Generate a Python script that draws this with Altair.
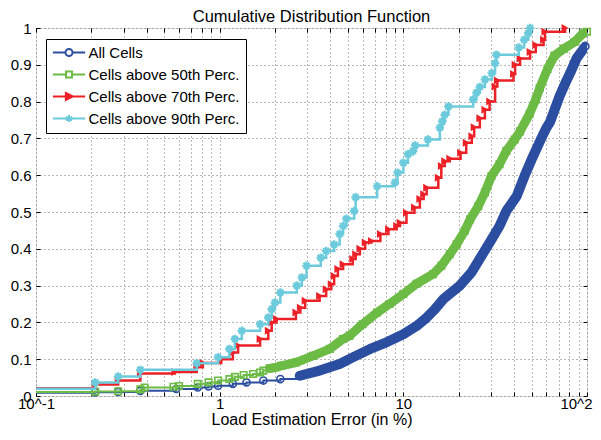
import altair as alt
import pandas as pd

FONT = "Liberation Sans"

series_names = ["All Cells", "Cells above 50th Perc.", "Cells above 70th Perc.", "Cells above 90th Perc."]
series_colors = ["#2c4ea0", "#6cbb45", "#ec2027", "#6bcbdc"]

# All Cells (blue)
blue_x = [0.1, 0.21, 0.28, 0.37, 0.58, 0.76, 0.87, 0.98, 1.18, 1.4,
          1.73, 2.14, 2.73, 3.5, 4.5, 5.3, 6.6, 8.1, 10.0, 11.8,
          13.2, 14.8, 16.5, 20.3, 23.5, 26.0, 29.5, 33.4, 36.4, 41.5,
          45.7, 50.9, 56.0, 60.0, 63.0, 68.0, 71.0, 77.0, 81.0, 87.8, 98.0]
blue_y = [0.009, 0.01, 0.011, 0.014, 0.019, 0.023, 0.026, 0.028, 0.033, 0.037,
          0.042, 0.046, 0.055, 0.069, 0.087, 0.105, 0.128, 0.146, 0.168, 0.19,
          0.21, 0.235, 0.263, 0.3, 0.336, 0.372, 0.417, 0.462, 0.503, 0.544,
          0.598, 0.652, 0.697, 0.728, 0.745, 0.79, 0.815, 0.855, 0.878, 0.918, 0.95]

# Cells above 50th percentile (green)
green_x = [0.1, 0.21, 0.28, 0.37, 0.39, 0.56, 0.6, 0.76, 0.87, 0.98,
           1.13, 1.21, 1.35, 1.52, 1.66, 1.73, 1.87, 2.04, 2.16, 2.6,
           3.22, 3.98, 4.7, 5.1, 6.0, 7.2, 8.4, 10.0, 11.8, 14.5,
           16.1, 17.9, 19.5, 21.6, 23.1, 25.6, 27.8, 30.2, 33.4, 36.4,
           40.4, 43.2, 48.7, 52.6, 55.3, 61.0, 66.5, 75.0, 85.5, 95.0, 100.0]
green_y = [0.011, 0.012, 0.013, 0.018, 0.023, 0.025, 0.027, 0.033, 0.037, 0.042,
           0.046, 0.052, 0.057, 0.06, 0.064, 0.069, 0.075, 0.078, 0.082, 0.091,
           0.109, 0.128, 0.155, 0.164, 0.195, 0.227, 0.25, 0.277, 0.305, 0.331,
           0.354, 0.385, 0.412, 0.449, 0.48, 0.516, 0.553, 0.598, 0.63, 0.666,
           0.697, 0.719, 0.767, 0.806, 0.837, 0.889, 0.925, 0.944, 0.962, 0.985, 0.99]

# Cells above 70th percentile (red)
red_x = [0.1, 0.21, 0.28, 0.37, 0.57, 0.75, 0.81, 1.02, 1.18, 1.26,
         1.66, 1.84, 1.92, 2.04, 2.6, 2.75, 2.92, 3.5, 3.8, 4.05,
         4.2, 4.4, 4.7, 5.3, 5.5, 5.8, 6.2, 6.7, 7.5, 8.3,
         9.2, 9.6, 10.4, 11.5, 12.3, 12.9, 13.4, 15.5, 16.1, 16.8,
         17.9, 20.5, 22.0, 23.6, 24.3, 26.1, 27.8, 29.5, 31.6, 32.5,
         39.8, 40.6, 43.2, 49.0, 52.6, 58.0, 59.0, 76.0]
red_y = [0.021, 0.031, 0.042, 0.061, 0.065, 0.078, 0.09, 0.1, 0.118, 0.137,
         0.155, 0.177, 0.2, 0.209, 0.227, 0.24, 0.259, 0.272, 0.29, 0.304,
         0.326, 0.345, 0.358, 0.372, 0.385, 0.4, 0.417, 0.421, 0.44, 0.453,
         0.462, 0.471, 0.498, 0.512, 0.535, 0.548, 0.566, 0.593, 0.625, 0.638,
         0.645, 0.661, 0.688, 0.706, 0.73, 0.755, 0.778, 0.8, 0.841, 0.857,
         0.875, 0.9, 0.917, 0.935, 0.954, 0.968, 0.99, 1.0]

# Cells above 90th percentile (cyan)
cyan_x = [0.1, 0.21, 0.28, 0.37, 0.75, 0.98, 1.13, 1.21, 1.32, 1.66,
          1.84, 1.92, 2.0, 2.14, 2.63, 2.8, 2.97, 3.55, 3.8, 4.2,
          4.5, 4.7, 4.9, 5.4, 5.5, 7.2, 9.0, 9.3, 10.0, 10.6,
          11.3, 11.6, 13.6, 15.8, 16.3, 16.8, 17.6, 24.0, 25.0, 26.1,
          27.8, 30.3, 31.6, 32.1, 42.5, 45.5, 47.9, 49.0]
cyan_y = [0.02, 0.037, 0.053, 0.071, 0.089, 0.105, 0.128, 0.155, 0.177, 0.195,
          0.213, 0.236, 0.254, 0.281, 0.30, 0.322, 0.354, 0.376, 0.394, 0.412,
          0.44, 0.462, 0.482, 0.503, 0.54, 0.57, 0.58, 0.607, 0.634, 0.657,
          0.666, 0.681, 0.697, 0.729, 0.746, 0.764, 0.787, 0.806, 0.824, 0.84,
          0.86, 0.877, 0.904, 0.927, 0.947, 0.968, 0.986, 1.0]

x_tick_values = [0.1, 0.2, 0.3, 0.4, 0.5, 0.6, 0.7, 0.8, 0.9,
                 1, 2, 3, 4, 5, 6, 7, 8, 9,
                 10, 20, 30, 40, 50, 60, 70, 80, 90, 100]
x_tick_labels = {0.1: "10^-1", 1: "1", 10: "10", 100: "10^2"}
y_tick_values = [0, 0.1, 0.2, 0.3, 0.4, 0.5, 0.6, 0.7, 0.8, 0.9, 1]

all_x = [blue_x, green_x, red_x, cyan_x]
all_y = [blue_y, green_y, red_y, cyan_y]

rows = []
for name, xs, ys in zip(series_names, all_x, all_y):
    for xv, yv in zip(xs, ys):
        rows.append({"series": name, "x": xv, "y": yv})
df = pd.DataFrame(rows)

label_expr = " : ".join(f"datum.value == {k} ? '{v}'" for k, v in x_tick_labels.items()) + " : ''"

GRID = dict(grid=True, gridDash=[1, 3], gridColor="#707070", gridWidth=1,
            ticks=False, tickSize=0, domain=False,
            labelFont=FONT, labelFontSize=15, labelColor="black")

xaxis = alt.Axis(values=x_tick_values, labelExpr=label_expr, labelPadding=0,
                 labelOverlap=False, labelFlush=False,
                 labelAlign={"condition": {"test": "datum.value == 100", "value": "right"}, "value": "center"},
                 labelOffset={"condition": {"test": "datum.value == 100", "value": 5}, "value": 0},
                 title="Load Estimation Error (in %)", titleFont=FONT, titleFontSize=16,
                 titleFontWeight="normal", titleColor="black", titlePadding=0, **GRID)
yaxis = alt.Axis(values=y_tick_values, format=".1~f", labelPadding=5,
                 labelOverlap=False, labelFlush=False, title=None, **GRID)

xscale = alt.Scale(type="log", domain=[0.1, 100], nice=False)
yscale = alt.Scale(domain=[0, 1], nice=False)

X = alt.X("x:Q", scale=xscale, axis=xaxis)
Y = alt.Y("y:Q", scale=yscale, axis=yaxis)
Xn = alt.X("x:Q", scale=xscale, axis=None)
Yn = alt.Y("y:Q", scale=yscale, axis=None)


def tick_axis(values, orient):
    # inward tick marks (MATLAB style box ticks)
    return alt.Axis(values=values, orient=orient, offset=-4, tickSize=4, ticks=True,
                    tickColor="black", tickWidth=1, labels=False, domain=False,
                    grid=False, title=None)


base = alt.Chart(df)

ASTERISK = "M0,-1L0,1M-1,0L1,0M-0.7,-0.7L0.7,0.7M-0.7,0.7L0.7,-0.7"
marker_specs = [
    dict(shape="circle", size=50, filled=False, lw=2, sw=1.6, band=(0.05, 10)),
    dict(shape="square", size=42, filled=False, lw=2, sw=1.6, band=(0.075, 9)),
    dict(shape="triangle-right", size=64, filled=True, lw=2.5, sw=1.6, band=None),
    dict(shape=ASTERISK, size=72, filled=False, lw=2.5, sw=2.2, band=None),
]

layers = [
    # main axes with grid and labels
    base.transform_filter("false").mark_point().encode(x=X, y=Y),
    # inward ticks bottom / left
    base.transform_filter("false").mark_point().encode(
        x=alt.X("x:Q", scale=xscale, axis=tick_axis(x_tick_values, "bottom")),
        y=alt.Y("y:Q", scale=yscale, axis=tick_axis(y_tick_values, "left"))),
    # inward ticks top / right
    base.transform_filter("false").mark_point().encode(
        x=alt.X("x:Q", scale=xscale, axis=tick_axis(x_tick_values, "top")),
        y=alt.Y("y:Q", scale=yscale, axis=tick_axis(y_tick_values, "right"))),
]

for name, color, spec, ys in zip(series_names, series_colors, marker_specs, all_y):
    sub = base.transform_filter(alt.datum.series == name)
    if spec["band"]:
        thr, w = spec["band"]
        band_start = min(v for v in ys if v >= thr)
        layers.append(sub.transform_filter(alt.datum.y <= band_start).mark_line(
            interpolate="step-after", color=color, strokeWidth=spec["lw"], clip=True
        ).encode(x=Xn, y=Yn))
        layers.append(sub.transform_filter(alt.datum.y >= band_start).mark_line(
            color=color, strokeWidth=w, strokeCap="round", strokeJoin="round", clip=True
        ).encode(x=Xn, y=Yn))
    else:
        layers.append(sub.mark_line(interpolate="step-after", color=color,
                                    strokeWidth=spec["lw"], clip=True).encode(x=Xn, y=Yn))
    layers.append(sub.transform_filter(alt.datum.x > 0.1).mark_point(
        shape=spec["shape"], size=spec["size"], filled=spec["filled"], color=color,
        strokeWidth=spec["sw"], opacity=1
    ).encode(x=Xn, y=Yn))

# legend (line + marker samples)
legend_paths = [
    "M-4.6,0L-1,0M1,0L4.6,0M1,0A1,1,0,1,1,-1,0A1,1,0,1,1,1,0",
    "M-4.6,0L-0.85,0M0.85,0L4.6,0M-0.85,-0.85L0.85,-0.85L0.85,0.85L-0.85,0.85Z",
    "M-4.6,0L4.6,0M-0.9,-1L1.1,0L-0.9,1Z",
    "M-4.6,0L4.6,0M0,-1L0,1M-0.87,-0.5L0.87,0.5M-0.87,0.5L0.87,-0.5",
]
legend_fills = ["transparent", "transparent", series_colors[2], "transparent"]

leg = alt.Legend(title=None, orient="none", legendX=10, legendY=11,
                 fillColor="white", strokeColor="black", padding=6, cornerRadius=0,
                 labelFont=FONT, labelFontSize=15, labelColor="black", labelLimit=400,
                 symbolSize=49, symbolStrokeWidth=2, symbolOffset=9.5, labelOffset=12,
                 rowPadding=6)

legend_layer = base.transform_filter("false").mark_point(filled=False, size=49, opacity=1).encode(
    x=Xn, y=Yn,
    stroke=alt.Stroke("series:N", scale=alt.Scale(domain=series_names, range=series_colors), legend=leg),
    fill=alt.Fill("series:N", scale=alt.Scale(domain=series_names, range=legend_fills), legend=leg),
    shape=alt.Shape("series:N", scale=alt.Scale(domain=series_names, range=legend_paths), legend=leg),
)
layers.append(legend_layer)

chart = alt.layer(*layers).resolve_axis(x="independent", y="independent").properties(
    width=551, height=368,
    title=alt.TitleParams(text="Cumulative Distribution Function", font=FONT, fontSize=16.5,
                          fontWeight="normal", color="black", anchor="middle",
                          frame="group", offset=0, dy=6),
    padding={"left": 28, "top": 20, "right": 6, "bottom": 32},
    autosize=alt.AutoSizeParams(type="none"),
).configure_view(stroke="black", strokeWidth=1).configure(background="white")

chart.save("out.html", embed_options={"renderer": "svg", "actions": False})
